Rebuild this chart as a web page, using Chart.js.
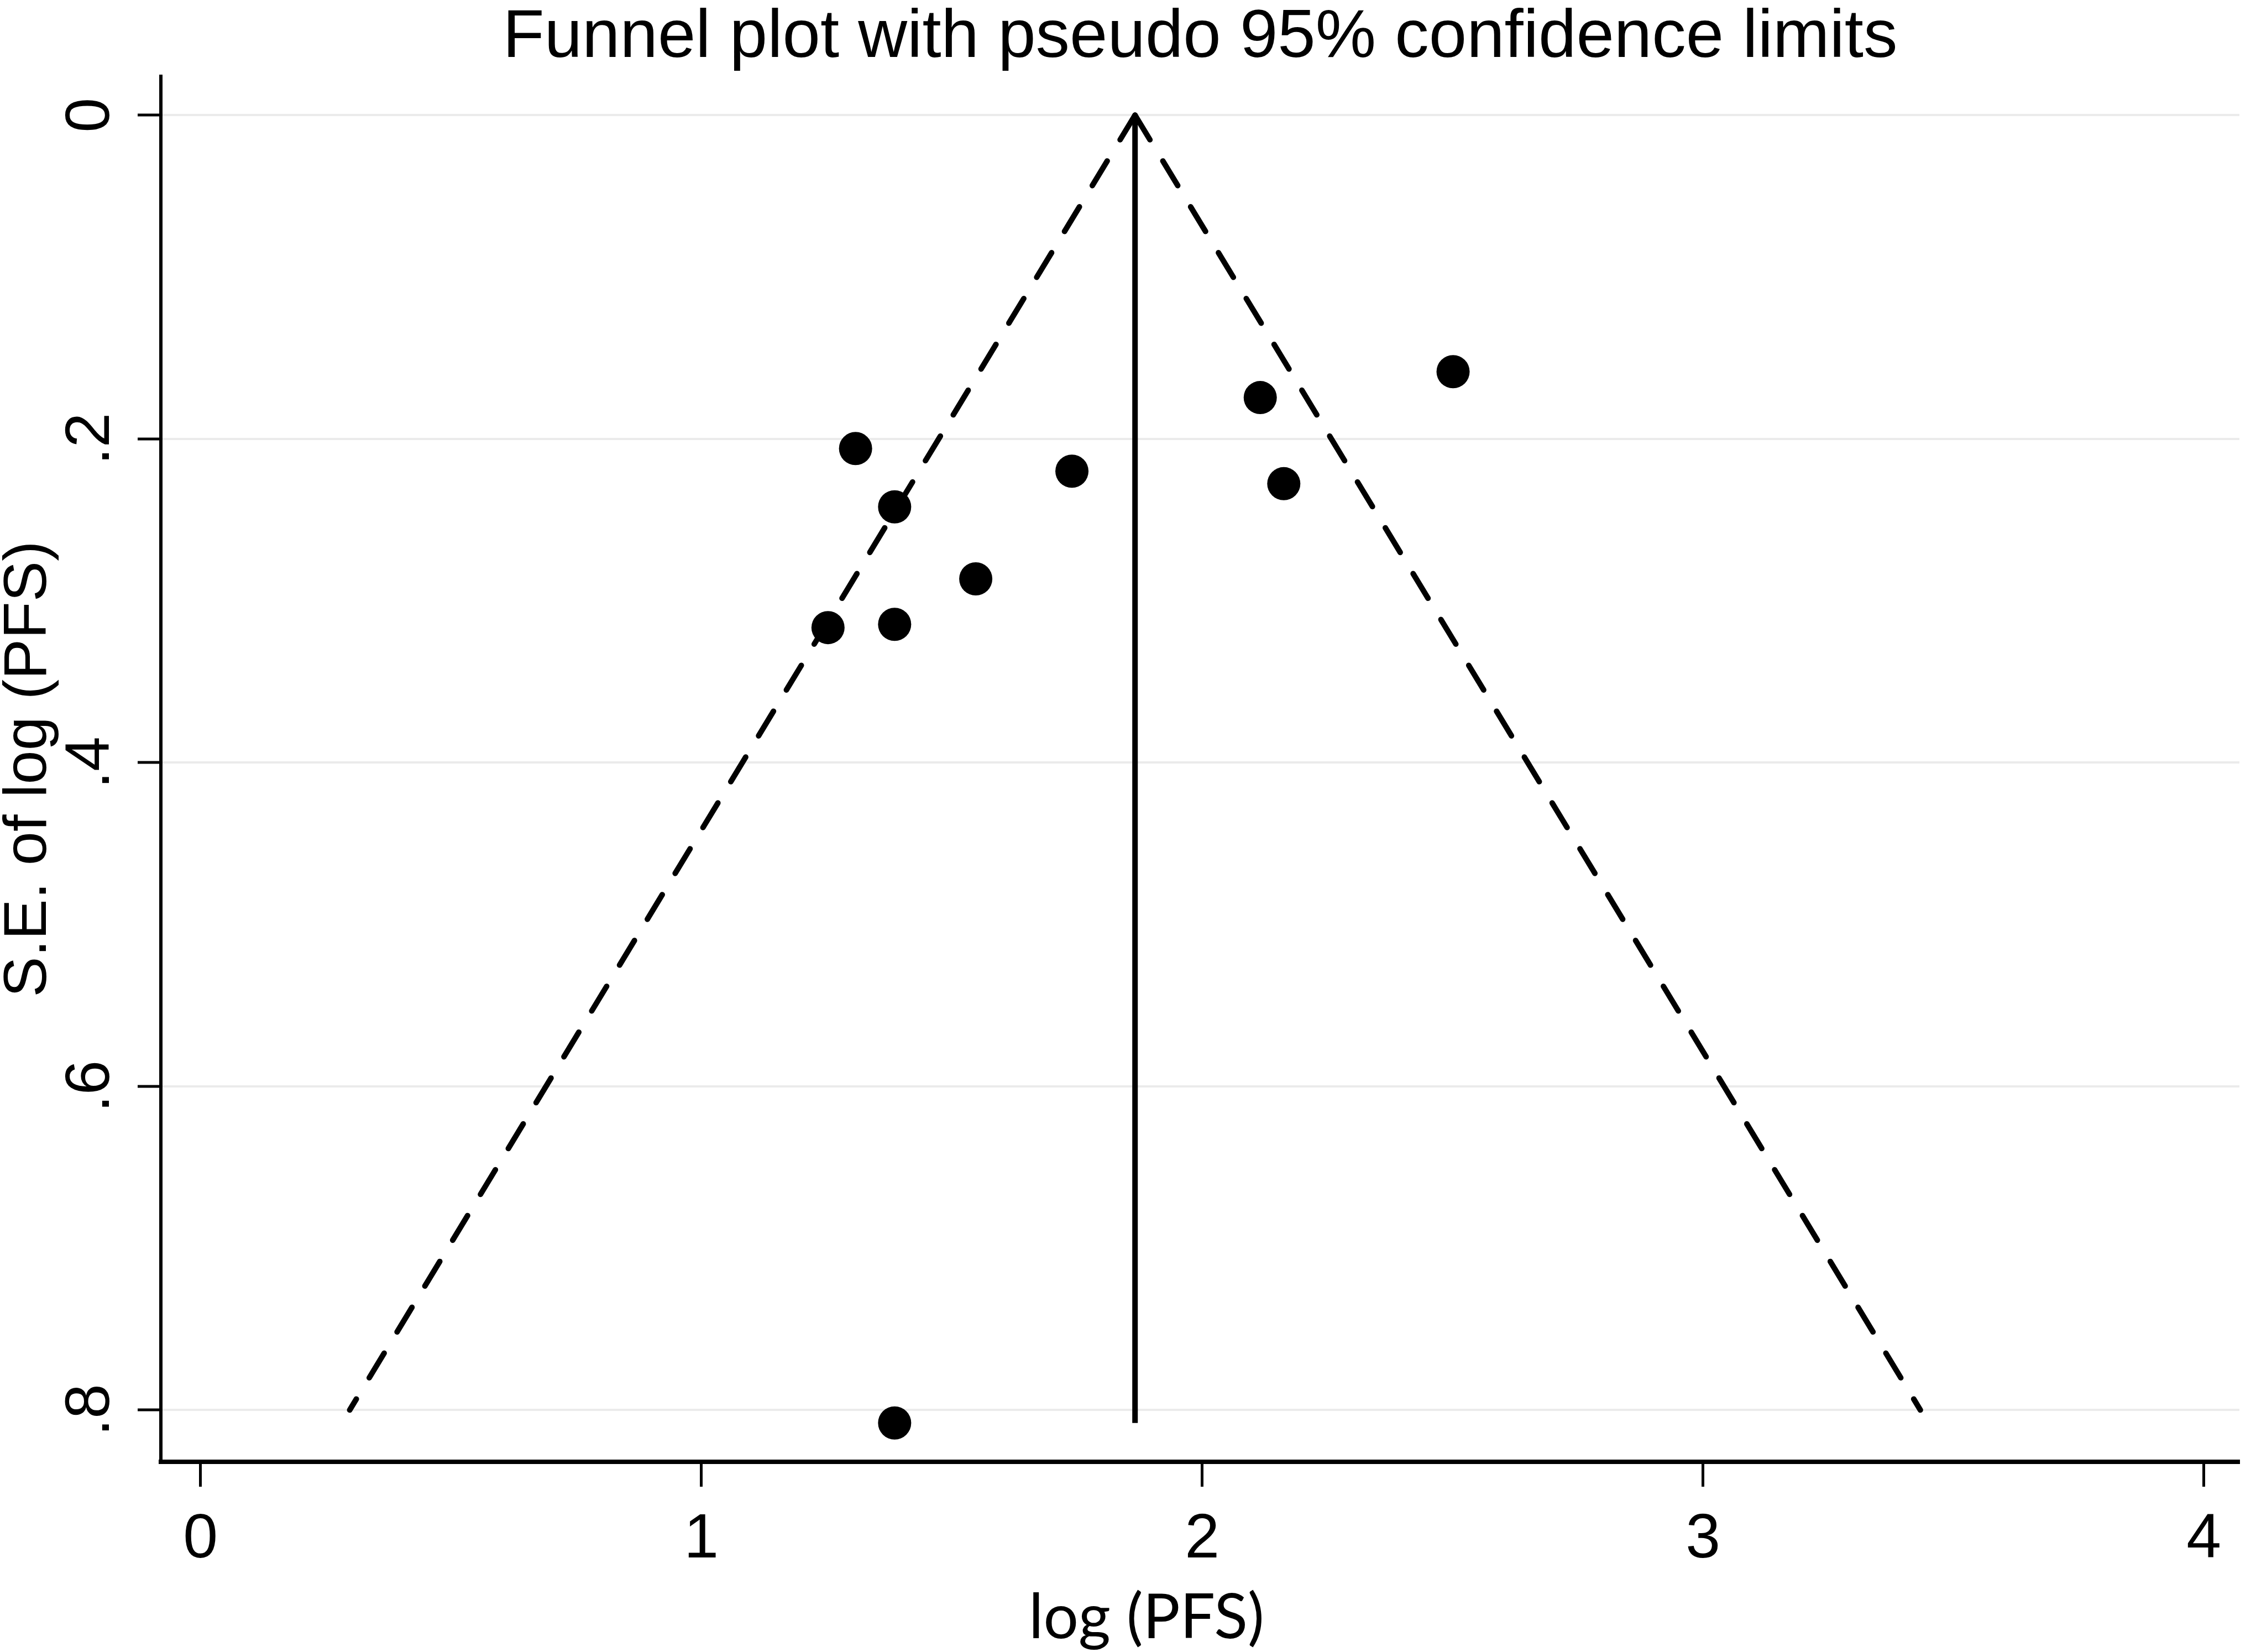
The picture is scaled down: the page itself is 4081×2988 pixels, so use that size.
<!DOCTYPE html>
<html>
<head>
<meta charset="utf-8">
<title>Funnel plot</title>
<script src="https://cdn.jsdelivr.net/npm/chart.js@4/dist/chart.umd.min.js"></script>
<style>
  html, body { margin: 0; padding: 0; background: #fff; }
  canvas { display: block; }
</style>
</head>
<body>
<canvas id="funnelChart" width="4081" height="2988"></canvas>
<script>
// study estimates
const logPFS = [1.308, 1.386, 1.740, 1.548, 1.253, 1.386, 2.116, 2.163, 2.501, 1.386];
const seLogPFS = [0.206, 0.242, 0.220, 0.2865, 0.3166, 0.3146, 0.1745, 0.2277, 0.1585, 0.808];

// pooled estimate and pseudo 95% limits
const pooled = 1.866;
const pooledLineSE = [0, 0.808];
const funnelSE = [0, 0.8];
const funnelLeftX = [pooled, 0.298];
const funnelRightX = [pooled, 3.434];

// axes
const xTicks = [0, 1, 2, 3, 4];
const xTickLabels = ['0', '1', '2', '3', '4'];
const yTicks = [0, 0.2, 0.4, 0.6, 0.8];
const yTickLabels = ['0', '.2', '.4', '.6', '.8'];
const xAxisTitle = 'log (PFS)';

const studies = logPFS.map((x, i) => ({ x: x, y: seLogPFS[i] }));
const leftLimit = funnelSE.map((y, i) => ({ x: funnelLeftX[i], y: y }));
const rightLimit = funnelSE.map((y, i) => ({ x: funnelRightX[i], y: y }));
const pooledLine = pooledLineSE.map(y => ({ x: pooled, y: y }));

const dashedLine = {
    showLine: true,
    borderColor: '#000',
    borderWidth: 10,
    borderDash: [52, 45],
    borderCapStyle: 'round',
    pointRadius: 0,
    fill: false
};

// Stata puts the x title a bit left of the plot centre, so it is drawn here
const xTitle = {
    id: 'xTitle',
    afterDraw(chart) {
        const c = chart.ctx;
        const area = chart.chartArea;
        c.save();
        c.fillStyle = '#000';
        c.font = "112px Lato, 'Liberation Sans', sans-serif";
        c.textAlign = 'center';
        c.textBaseline = 'alphabetic';
        c.fillText(xAxisTitle, (area.left + area.right) / 2 - 97, chart.height - 25);
        c.restore();
    }
};

const config = {
    type: 'scatter',
    data: {
        datasets: [
            {
                label: 'Studies',
                data: studies,
                backgroundColor: '#000',
                borderColor: '#000',
                pointRadius: 30,
                pointHoverRadius: 30,
                borderWidth: 0
            },
            Object.assign({ label: 'Lower limit', data: leftLimit }, dashedLine),
            Object.assign({ label: 'Upper limit', data: rightLimit }, dashedLine),
            {
                label: 'Pooled',
                data: pooledLine,
                showLine: true,
                borderColor: '#000',
                borderWidth: 10,
                pointRadius: 0,
                fill: false
            }
        ]
    },
    plugins: [xTitle],
    options: {
        responsive: false,
        animation: false,
        devicePixelRatio: 1,
        layout: {
            padding: { left: 0, right: 6, top: 0, bottom: 0 }
        },
        scales: {
            x: {
                type: 'linear',
                min: -0.079,
                max: 4.071,
                afterBuildTicks: scale => {
                    scale.ticks = xTicks.map(v => ({ value: v }));
                },
                afterFit: scale => {
                    scale.height = 344;
                },
                border: { color: '#000', width: 8 },
                grid: {
                    drawOnChartArea: false,
                    drawTicks: true,
                    tickLength: 45,
                    tickColor: '#000',
                    tickWidth: 5
                },
                ticks: {
                    color: '#000',
                    padding: 29,
                    maxRotation: 0,
                    font: { family: "'Liberation Sans', Arial, sans-serif", size: 113 },
                    callback: (value) => xTickLabels[xTicks.indexOf(value)]
                },
                title: { display: false }
            },
            y: {
                type: 'linear',
                reverse: true,
                min: -0.024,
                max: 0.832,
                afterBuildTicks: scale => {
                    scale.ticks = yTicks.map(v => ({ value: v }));
                },
                afterFit: scale => {
                    scale.width = 291;
                },
                border: { color: '#000', width: 6 },
                grid: {
                    color: '#ebebeb',
                    lineWidth: 4,
                    drawTicks: true,
                    tickLength: 42,
                    tickColor: '#000',
                    tickWidth: 5
                },
                ticks: {
                    color: '#000',
                    padding: 36,
                    minRotation: 90,
                    maxRotation: 90,
                    crossAlign: 'center',
                    font: { family: "'Liberation Sans', Arial, sans-serif", size: 113 },
                    callback: (value) => yTickLabels[yTicks.indexOf(value)]
                },
                title: {
                    display: true,
                    text: 'S.E. of log (PFS)',
                    color: '#000',
                    font: { family: "'Liberation Sans', Arial, sans-serif", size: 110, lineHeight: 0.92 },
                    padding: { top: 2, bottom: 0 }
                }
            }
        },
        plugins: {
            legend: { display: false },
            tooltip: { enabled: false },
            title: {
                display: true,
                fullSize: false,
                text: 'Funnel plot with pseudo 95% confidence limits',
                color: '#000',
                font: { family: "'Liberation Sans', Arial, sans-serif", size: 123, weight: 'normal', lineHeight: 1 },
                padding: { top: 8, bottom: 7 }
            }
        }
    }
};

const ctx = document.getElementById('funnelChart').getContext('2d');
const funnelChart = new Chart(ctx, config);
</script>
</body>
</html>
